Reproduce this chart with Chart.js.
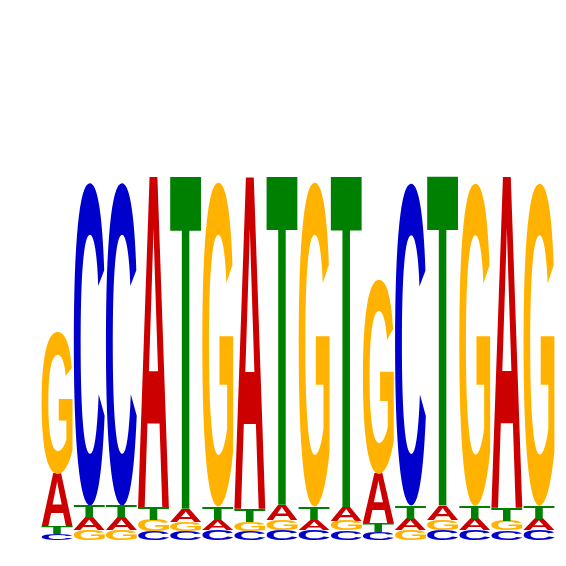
<!DOCTYPE html>
<html>
<head>
<meta charset="utf-8">
<script src="https://cdn.jsdelivr.net/npm/chart.js@4.4.0/dist/chart.umd.min.js"></script>
<style>
  html, body { margin: 0; padding: 0; background: #fff; }
  canvas { display: block; }
</style>
</head>
<body>
<canvas id="logo" width="566" height="566"></canvas>
<script>
// posiciones del motivo
var positions = ["1","2","3","4","5","6","7","8","9","10","11","12","13","14","15","16"];
// altura de cada letra (bits)
var a_bits = [0.203,0.046,0.046,1.268,0.050,0.040,1.268,0.057,0.040,0.052,0.188,0.042,0.054,0.042,1.266,0.042];
var c_bits = [0.023,1.234,1.234,0.034,0.034,0.038,0.034,0.038,0.038,0.036,0.031,1.232,0.038,0.038,0.036,0.038];
var g_bits = [0.544,0.038,0.038,0.042,0.036,1.239,0.036,0.040,1.239,0.038,0.743,0.040,0.040,1.234,0.038,1.234];
var t_bits = [0.027,0.048,0.048,0.046,1.270,0.050,0.050,1.255,0.050,1.264,0.034,0.050,1.259,0.050,0.050,0.050];

var letras = ["A", "C", "G", "T"];
var colores = { A: "#cc0000", C: "#0000cc", G: "#ffb300", T: "#008000" };
var alturas = { A: a_bits, C: c_bits, G: g_bits, T: t_bits };
var fuente = 'bold 400px "Liberation Sans", Arial, sans-serif';

// apilar: la letra mas pequena abajo
var rangos = { A: [], C: [], G: [], T: [] };
positions.forEach(function (p, i) {
  var orden = letras.slice().sort(function (x, y) { return alturas[x][i] - alturas[y][i]; });
  var base = 0;
  orden.forEach(function (l) {
    rangos[l][i] = [base, base + alturas[l][i]];
    base += alturas[l][i];
  });
});

// caja real de la tinta de cada letra (measureText redondea)
var cajas = {};
function cajaLetra(letra) {
  if (cajas[letra]) return cajas[letra];
  var c = document.createElement("canvas");
  c.width = 600; c.height = 600;
  var g = c.getContext("2d");
  g.font = fuente;
  g.fillStyle = "#000";
  g.fillText(letra, 100, 500);
  var px = g.getImageData(0, 0, 600, 600).data;
  var x0 = 600, x1 = -1, y0 = 600, y1 = -1;
  for (var y = 0; y < 600; y++) {
    for (var x = 0; x < 600; x++) {
      if (px[(y * 600 + x) * 4 + 3] > 100) {
        if (x < x0) x0 = x;
        if (x > x1) x1 = x;
        if (y < y0) y0 = y;
        if (y > y1) y1 = y;
      }
    }
  }
  cajas[letra] = { ox: 100 - x0, oy: 500 - y0, w: x1 - x0 + 1, h: y1 - y0 + 1 };
  return cajas[letra];
}

// dibuja cada letra estirada dentro de su barra
const letterPlugin = {
  id: "letters",
  afterDatasetsDraw(chart) {
    const ctx = chart.ctx;
    chart.data.datasets.forEach(function (ds, di) {
      const meta = chart.getDatasetMeta(di);
      meta.data.forEach(function (el) {
        const w = el.width;
        const h = Math.abs(el.base - el.y);
        if (h < 0.5) return;
        const top = Math.min(el.y, el.base);
        const left = el.x - w / 2;
        const b = cajaLetra(ds.label);
        ctx.save();
        ctx.font = fuente;
        ctx.translate(left, top);
        ctx.scale(w / b.w, h / b.h);
        ctx.fillStyle = colores[ds.label];
        ctx.fillText(ds.label, b.ox, b.oy);
        ctx.restore();
      });
    });
  }
};

const data = {
  labels: positions,
  datasets: letras.map(function (l) {
    return {
      label: l,
      data: rangos[l],
      backgroundColor: "rgba(0,0,0,0)",
      borderWidth: 0,
      grouped: false,
      barPercentage: 0.96,
      categoryPercentage: 1.0,
    };
  }),
};

const options = {
  responsive: false,
  animation: false,
  devicePixelRatio: 1,
  layout: { padding: { left: 41, right: 11, top: 18, bottom: 26 } },
  plugins: {
    legend: { display: false },
    tooltip: { enabled: false },
  },
  scales: {
    x: { display: false },
    y: { display: false, min: 0, max: 2 },
  },
};

new Chart(document.getElementById("logo"), {
  type: "bar",
  data,
  options,
  plugins: [letterPlugin],
});
</script>
</body>
</html>
